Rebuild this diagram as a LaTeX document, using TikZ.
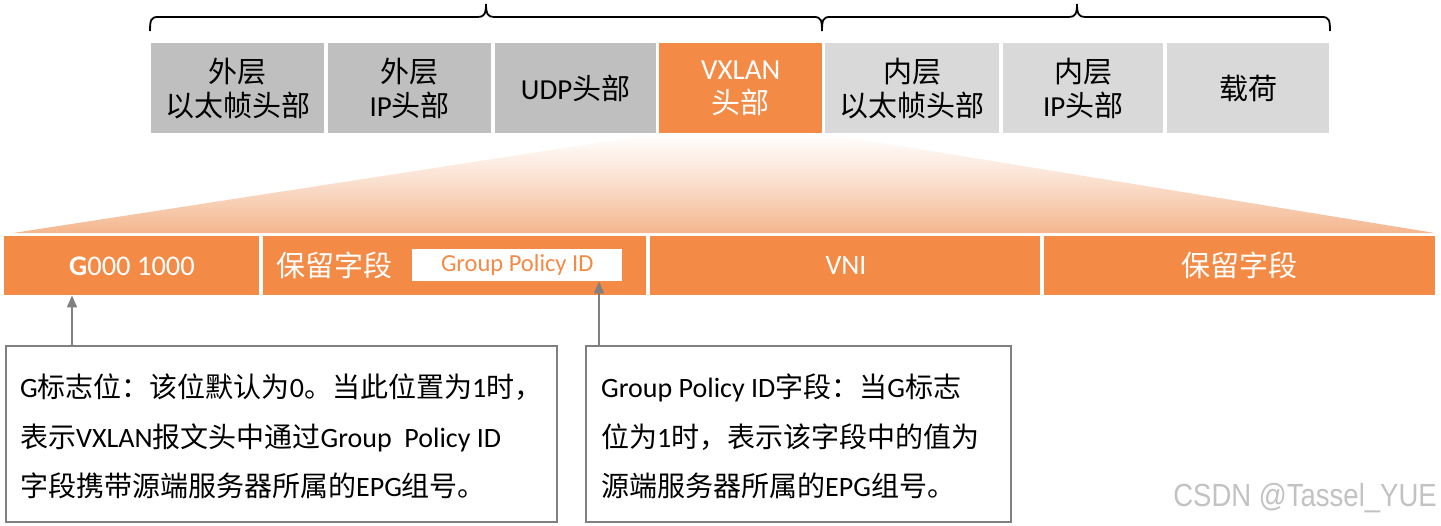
\documentclass[tikz,border=0pt]{standalone}
\usepackage{fontspec}
\setmainfont{Carlito}
\newfontfamily\cjk{Noto Sans CJK SC}
\newfontfamily\wmfont{Liberation Sans}
\newcommand\zh[1]{{\cjk #1}}
\usetikzlibrary{arrows.meta}
\definecolor{vxorange}{HTML}{F38B47}
\definecolor{grayA}{HTML}{BFBFBF}
\definecolor{grayB}{HTML}{D9D9D9}
\definecolor{lightor}{HTML}{F4B68E}
\definecolor{linegray}{HTML}{808080}
\begin{document}
\begin{tikzpicture}[x=1pt,y=-1pt,
  cell/.style={rectangle,inner sep=0pt,anchor=north west,align=center,
    font=\fontsize{29}{34}\selectfont},
  outer/.style={cell,fill=grayA,text=black},
  inner/.style={cell,fill=grayB,text=black},
  vx/.style={cell,fill=vxorange,text=white},
  bar/.style={rectangle,inner sep=0pt,anchor=north west,fill=vxorange,text=white,minimum height=59pt},
  brace/.style={draw=black,line width=1.8pt},
  arr/.style={draw=linegray,line width=1.6pt,-{Triangle[width=10pt,length=12pt]}},
  note/.style={rectangle,draw=linegray,line width=1.8pt,inner sep=0pt,anchor=north west},
  notetext/.style={anchor=north west,align=left,inner sep=0pt,
    font=\fontsize{28}{49.5}\selectfont}
]
\useasboundingbox (0,0) rectangle (1441,525);

% braces
\draw[brace] (150,31) .. controls (150,20) and (151,17) .. (158,17) -- (478,17)
  .. controls (484,17) and (486,14) .. (486,4) .. controls (486,14) and (488,17) .. (494,17)
  -- (814,17) .. controls (821,17) and (822,20) .. (822,31);
\draw[brace] (822,31) .. controls (822,20) and (823,17) .. (830,17) -- (1069,17)
  .. controls (1075,17) and (1077,14) .. (1077,4) .. controls (1077,14) and (1079,17) .. (1085,17)
  -- (1322,17) .. controls (1329,17) and (1330,20) .. (1330,31);

% top boxes
\node[outer,minimum width=173pt,minimum height=90pt] (t1) at (151,43) {\zh{外层}\\\zh{以太帧头部}};
\node[outer,minimum width=163pt,minimum height=90pt] (t2) at (328,43) {\zh{外层}\\IP\zh{头部}};
\node[outer,minimum width=161pt,minimum height=90pt] (t3) at (495,43) {UDP\zh{头部}};
\node[vx,minimum width=163pt,minimum height=90pt] (t4) at (659,43) {VXLAN\\\zh{头部}};
\node[inner,minimum width=174pt,minimum height=90pt] (t5) at (825,43) {\zh{内层}\\\zh{以太帧头部}};
\node[inner,minimum width=160pt,minimum height=90pt] (t6) at (1003,43) {\zh{内层}\\IP\zh{头部}};
\node[inner,minimum width=162pt,minimum height=90pt] (t7) at (1167,43) {\zh{载荷}};

% gradient trapezoid
\shade[top color=white,bottom color=lightor,middle color=lightor!45]
  (t4.south west) -- (t4.south east) -- (1435,233) -- (13,233) -- cycle;

% bottom bar
\node[bar,minimum width=255pt] (b1) at (4,236) {};
\node[bar,minimum width=383pt] (b2) at (263,236) {};
\node[bar,minimum width=390pt] (b3) at (650,236) {};
\node[bar,minimum width=391pt] (b4) at (1044,236) {};
\node[text=white,font=\fontsize{28.5}{30}\selectfont] (g) at (132,266) {\textbf{G}000 1000};
\node[text=white,font=\fontsize{29}{30}\selectfont\cjk] (r1) at (334,265) {保留字段};
\node[rectangle,fill=white,inner sep=0pt,minimum width=210pt,minimum height=32pt,anchor=north west,
  text=vxorange,font=\fontsize{24.5}{26}\selectfont] (gp) at (412,249) {Group Policy ID};
\node[text=white,font=\fontsize{28}{30}\selectfont] (vni) at (846,266) {VNI};
\node[text=white,font=\fontsize{29}{30}\selectfont\cjk] (r2) at (1239,265) {保留字段};

% note boxes
\node[note,minimum width=551pt,minimum height=176pt] (na) at (5,345) {};
\node[note,minimum width=425pt,minimum height=176pt] (nb) at (585,345) {};
\node[notetext] (ta) at (20,374) {G\zh{标志位：该位默认为}0\zh{。当此位置为}1\zh{时，}\\
  \zh{表示}VXLAN\zh{报文头中通过}Group\ \ Policy ID\\
  \zh{字段携带源端服务器所属的}EPG\zh{组号。}};
\node[notetext] (tb) at (601,374) {Group Policy ID\zh{字段：当}G\zh{标志}\\
  \zh{位为}1\zh{时，表示该字段中的值为}\\
  \zh{源端服务器所属的}EPG\zh{组号。}};

% arrows
\coordinate (aa) at (72,345);
\coordinate (ab) at (599,345);
\draw[arr] (aa) -- (aa |- b1.south);
\draw[arr] (ab) -- (ab |- gp.south);

% watermark
\node[anchor=east,text=black!24,font=\fontsize{32}{34}\selectfont\wmfont,inner sep=0pt] (wm) at (1437,498) {\scalebox{0.86}[1]{CSDN @Tassel\_YUE}};
\end{tikzpicture}
\end{document}
